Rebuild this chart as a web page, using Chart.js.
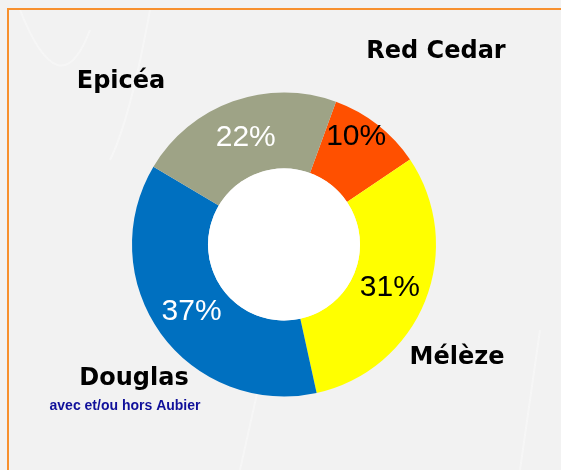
<!DOCTYPE html>
<html>
<head>
<meta charset="utf-8">
<script src="https://cdn.jsdelivr.net/npm/chart.js@4/dist/chart.umd.min.js"></script>
<style>
    body { margin: 0; background: #f2f2f2; }
    canvas { display: block; }
</style>
</head>
<body>
<canvas id="woodChart" width="561" height="470"></canvas>
<script>
// wood species share
let species = ["Red Cedar", "Mélèze", "Douglas", "Epicéa"];
let shares = [10, 31, 37, 22];
let sliceColors = ["#ff5000", "#ffff00", "#0070c0", "#9ea386"];
let pctColors = ["#000000", "#000000", "#ffffff", "#ffffff"];
let subLabel = "avec et/ou hors Aubier";

// where the species names sit (center x, baseline y)
let namePos = [[436, 58], [457, 364], [134, 385], [121, 88]];
// small nudges for the % labels
let pctNudge = [[2, -19], [0, 0], [0, 0], [0, 0]];

let decorPlugin = {
    id: "decor",
    beforeDraw(chart) {
        let ctx = chart.ctx;
        ctx.save();
        ctx.fillStyle = "#f2f2f2";
        ctx.fillRect(0, 0, chart.width, chart.height);

        // faint background strokes
        ctx.strokeStyle = "rgba(255,255,255,0.35)";
        ctx.lineWidth = 2;
        ctx.beginPath();
        ctx.moveTo(20, 10);
        ctx.quadraticCurveTo(60, 110, 90, 30);
        ctx.moveTo(150, 10);
        ctx.quadraticCurveTo(130, 120, 110, 160);
        ctx.moveTo(240, 470);
        ctx.lineTo(260, 380);
        ctx.moveTo(520, 470);
        ctx.lineTo(540, 330);
        ctx.stroke();

        // orange frame
        ctx.strokeStyle = "#f7902e";
        ctx.lineWidth = 2;
        ctx.beginPath();
        ctx.moveTo(8, chart.height + 2);
        ctx.lineTo(8, 9);
        ctx.lineTo(chart.width + 2, 9);
        ctx.stroke();
        ctx.restore();
    },
    afterDatasetsDraw(chart) {
        let ctx = chart.ctx;
        let arcs = chart.getDatasetMeta(0).data;
        let total = shares.reduce((a, b) => a + b, 0);
        ctx.save();

        // white hole
        let a0 = arcs[0];
        ctx.fillStyle = "#ffffff";
        ctx.beginPath();
        ctx.arc(a0.x, a0.y, a0.innerRadius, 0, Math.PI * 2);
        ctx.fill();

        // percentages
        ctx.font = "30px 'Liberation Sans', Arial, sans-serif";
        ctx.textAlign = "center";
        ctx.textBaseline = "middle";
        arcs.forEach((arc, i) => {
            let mid = (arc.startAngle + arc.endAngle) / 2;
            let r = (arc.innerRadius + arc.outerRadius) / 2;
            let x = arc.x + Math.cos(mid) * r + pctNudge[i][0];
            let y = arc.y + Math.sin(mid) * r + pctNudge[i][1];
            ctx.fillStyle = pctColors[i];
            ctx.fillText(Math.round(shares[i] / total * 100) + "%", x, y + 1);
        });

        // species names
        ctx.textBaseline = "alphabetic";
        ctx.fillStyle = "#000000";
        ctx.font = "bold 24px 'DejaVu Sans', sans-serif";
        species.forEach((name, i) => {
            ctx.fillText(name, namePos[i][0], namePos[i][1]);
        });
        ctx.fillStyle = "#10109a";
        ctx.font = "bold 14px 'Liberation Sans', Arial, sans-serif";
        ctx.fillText(subLabel, 125, 410);
        ctx.restore();
    }
};

new Chart(document.getElementById("woodChart"), {
    type: "doughnut",
    data: {
        labels: species,
        datasets: [{
            data: shares,
            backgroundColor: sliceColors,
            borderWidth: 0
        }]
    },
    options: {
        responsive: false,
        animation: false,
        rotation: 20,
        cutout: "50%",
        layout: {
            padding: { left: 132, right: 125, top: 92.5, bottom: 73.5 }
        },
        plugins: {
            legend: { display: false },
            tooltip: { enabled: false }
        }
    },
    plugins: [decorPlugin]
});
</script>
</body>
</html>
